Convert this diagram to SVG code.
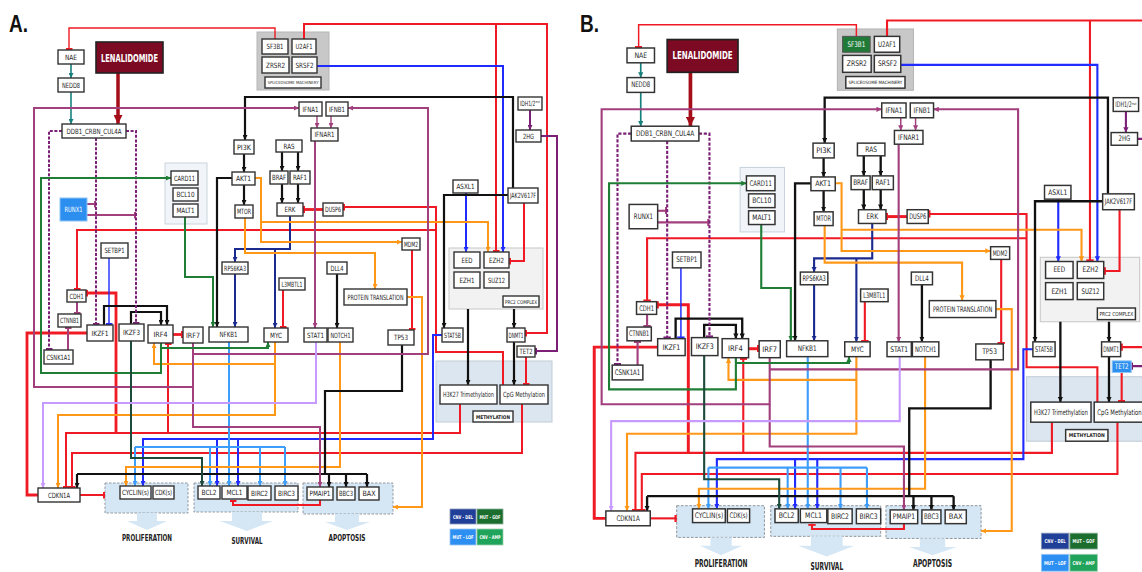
<svg xmlns="http://www.w3.org/2000/svg" xmlns:xlink="http://www.w3.org/1999/xlink" width="1142" height="572" viewBox="0 0 1142 572">
<style>
.bx{fill:#fff;stroke:#333;stroke-width:1.4}
.lb{font-family:'Liberation Sans Narrow','DejaVu Sans Condensed','Liberation Sans',sans-serif;font-size:7.2px;fill:#222;text-anchor:middle;dominant-baseline:central}
.sm{font-size:4.2px}
.wt{fill:#fff;font-weight:bold}
.c{fill:none;stroke-width:2}
.thin{stroke-width:1.4}
.thick{stroke-width:2.8}
.k{stroke:#111;stroke-width:2.2}
.r{stroke:#ef1a24}
.b{stroke:#1f2bff}
.n{stroke:#1b2a8f}
.lbl{stroke:#3d9dfc}
.o{stroke:#ff9818}
.p{stroke:#a23f7d}
.dp{stroke:#7b2076}
.dash{stroke-dasharray:3 1.6}
.g{stroke:#1f7d35}
.dg{stroke:#1c4a3b}
.t{stroke:#17807d;stroke-width:1.6}
.lv{stroke:#c79aff}
.grp{fill:#d5e7f5;stroke:#8a8f96;stroke-width:0.9;stroke-dasharray:2.5 1.5}
.out{font-family:'Liberation Sans Narrow','DejaVu Sans Condensed','Liberation Sans',sans-serif;font-size:9.5px;font-weight:bold;fill:#222;text-anchor:middle}
.leg{font-family:'Liberation Sans Narrow','DejaVu Sans Condensed','Liberation Sans',sans-serif;font-size:5px;font-weight:bold;fill:#fff;text-anchor:middle;dominant-baseline:central}
.pl{font-family:'Liberation Sans','Arial',sans-serif;font-size:24px;font-weight:bold;fill:#111}
</style>
<defs>
<marker id="a-k" viewBox="0 0 8 8" refX="8" refY="4" markerWidth="5" markerHeight="5" orient="auto" markerUnits="userSpaceOnUse"><path d="M0,0L8,4L0,8z" fill="#111"/></marker>
<marker id="a-b" viewBox="0 0 8 8" refX="8" refY="4" markerWidth="5" markerHeight="5" orient="auto" markerUnits="userSpaceOnUse"><path d="M0,0L8,4L0,8z" fill="#1f2bff"/></marker>
<marker id="a-n" viewBox="0 0 8 8" refX="8" refY="4" markerWidth="5" markerHeight="5" orient="auto" markerUnits="userSpaceOnUse"><path d="M0,0L8,4L0,8z" fill="#1b2a8f"/></marker>
<marker id="a-lb" viewBox="0 0 8 8" refX="8" refY="4" markerWidth="5" markerHeight="5" orient="auto" markerUnits="userSpaceOnUse"><path d="M0,0L8,4L0,8z" fill="#3d9dfc"/></marker>
<marker id="a-o" viewBox="0 0 8 8" refX="8" refY="4" markerWidth="5" markerHeight="5" orient="auto" markerUnits="userSpaceOnUse"><path d="M0,0L8,4L0,8z" fill="#ff9818"/></marker>
<marker id="a-p" viewBox="0 0 8 8" refX="8" refY="4" markerWidth="5" markerHeight="5" orient="auto" markerUnits="userSpaceOnUse"><path d="M0,0L8,4L0,8z" fill="#a23f7d"/></marker>
<marker id="a-dp" viewBox="0 0 8 8" refX="8" refY="4" markerWidth="5" markerHeight="5" orient="auto" markerUnits="userSpaceOnUse"><path d="M0,0L8,4L0,8z" fill="#7b2076"/></marker>
<marker id="a-g" viewBox="0 0 8 8" refX="8" refY="4" markerWidth="5" markerHeight="5" orient="auto" markerUnits="userSpaceOnUse"><path d="M0,0L8,4L0,8z" fill="#1f7d35"/></marker>
<marker id="a-dg" viewBox="0 0 8 8" refX="8" refY="4" markerWidth="5" markerHeight="5" orient="auto" markerUnits="userSpaceOnUse"><path d="M0,0L8,4L0,8z" fill="#1c4a3b"/></marker>
<marker id="a-t" viewBox="0 0 8 8" refX="8" refY="4" markerWidth="5" markerHeight="5" orient="auto" markerUnits="userSpaceOnUse"><path d="M0,0L8,4L0,8z" fill="#17807d"/></marker>
<marker id="a-lv" viewBox="0 0 8 8" refX="8" refY="4" markerWidth="5" markerHeight="5" orient="auto" markerUnits="userSpaceOnUse"><path d="M0,0L8,4L0,8z" fill="#c79aff"/></marker>
<marker id="a-dr" viewBox="0 0 8 8" refX="8" refY="4" markerWidth="9" markerHeight="9" orient="auto" markerUnits="userSpaceOnUse"><path d="M0,0L8,4L0,8z" fill="#a50d18"/></marker>
<marker id="t-r" viewBox="0 0 3 10" refX="3" refY="5" markerWidth="2.2" markerHeight="7" orient="auto" markerUnits="userSpaceOnUse"><rect width="3" height="10" fill="#ef1a24"/></marker>
<marker id="t-b" viewBox="0 0 3 10" refX="3" refY="5" markerWidth="2.2" markerHeight="7" orient="auto" markerUnits="userSpaceOnUse"><rect width="3" height="10" fill="#1f2bff"/></marker>
<marker id="t-p" viewBox="0 0 3 10" refX="3" refY="5" markerWidth="2.2" markerHeight="7" orient="auto" markerUnits="userSpaceOnUse"><rect width="3" height="10" fill="#a23f7d"/></marker>
<marker id="t-dp" viewBox="0 0 3 10" refX="3" refY="5" markerWidth="2.2" markerHeight="7" orient="auto" markerUnits="userSpaceOnUse"><rect width="3" height="10" fill="#7b2076"/></marker>

<!-- shared network drawing (nodes that never change colour) -->
<g id="panel">
  <!-- complex / outcome backgrounds -->
  <g id="bg">
    <rect x="257" y="32" width="72" height="58" fill="#c8c8c8" stroke="#b5b5b5"/>
    <rect x="165" y="163" width="42" height="61" fill="#f1f5f9" stroke="#c9d3dd"/>
    <rect x="449" y="248" width="94" height="61" fill="#f2f2f2" stroke="#c8c8c8"/>
    <rect x="436" y="361" width="116" height="61" fill="#dce6f0" stroke="#c2ccd6"/>
    <rect class="grp" x="105" y="483" width="83" height="30"/>
    <path d="M137,513V521H127L147,530L167,521H157V513Z" fill="#d5e7f5"/>
    <rect class="grp" x="194" y="483" width="104" height="29"/>
    <path d="M232,512V521H220L247,531L273,521H262V512Z" fill="#d5e7f5"/>
    <rect class="grp" x="303" y="483" width="90" height="31"/>
    <path d="M335,514V522H325L347,530L370,522H359V514Z" fill="#d5e7f5"/>
  </g>

  <g id="connectors">
    <path class="c t" d="M71,64V78" marker-end="url(#a-t)"/>
    <path class="c t" d="M71,92V124" marker-end="url(#a-t)"/>
    <path d="M118,73V124" fill="none" stroke="#a50d18" stroke-width="3.5" marker-end="url(#a-dr)"/>
    <!-- red -->
    <path class="c r thin" d="M275,39V28H69V50" marker-end="url(#t-r)"/>
    <path class="c r" d="M304,39V24H547V333H525" marker-end="url(#t-r)"/>
    <path class="c r" d="M496,24V252" marker-end="url(#t-r)"/>
    <path class="c r" d="M524,203V261H509" marker-end="url(#t-r)"/>
    <path class="c r" d="M412,250V330" marker-end="url(#t-r)"/>
    <path class="c r" d="M283,290V328" marker-end="url(#t-r)"/>
    <path class="c r thick" d="M323,209.5H303" marker-end="url(#t-r)"/>
    <path class="c r" d="M503,385V352H436V207H343" marker-end="url(#t-r)"/>
    <path class="c r" d="M436,230H77V290" marker-end="url(#t-r)"/>
    <path class="c r" d="M460,404V433H66V488" marker-end="url(#t-r)"/>
    <path class="c r thick" d="M116,433V293H86" marker-end="url(#t-r)"/>
    <path class="c r" d="M168,433V343" marker-end="url(#t-r)"/>
    <path class="c r" d="M522,404V453H72V488" marker-end="url(#t-r)"/>
    <path class="c r thick" d="M87,333H27V495H38"/>
    <path class="c r" d="M80,495H105" marker-end="url(#t-r)"/>
    <path class="c r" d="M320,500V505H233V500" marker-end="url(#t-r)"/>
    <path class="c r thick" d="M173,334.5H183" marker-end="url(#t-r)"/>
    <path class="c r" d="M526,357V385" marker-end="url(#t-r)"/>
    <!-- blue -->
    <path class="c b" d="M317,66H503V252" marker-end="url(#a-b)"/>
    <path class="c b" d="M466,193V252" marker-end="url(#a-b)"/>
    <path class="c b thin" d="M109,258V325" marker-end="url(#t-b)"/>
    <path class="c b" d="M442,335H433V439H143V486" marker-end="url(#a-b)"/>
    <path class="c b" d="M217,439V486" marker-end="url(#a-b)"/>
    <path class="c b" d="M238,439V486" marker-end="url(#a-b)"/>
    <!-- navy -->
    <path class="c n" d="M290,216V249H235V262" marker-end="url(#a-n)"/>
    <path class="c n" d="M275,249V328" marker-end="url(#a-n)"/>
    <path class="c n" d="M235,274V327" marker-end="url(#a-n)"/>
    <!-- light blue -->
    <path class="c lbl" d="M229,342V486" marker-end="url(#a-lb)"/>
    <path class="c lbl" d="M135,447H285"/>
    <path class="c lbl" d="M135,447V486" marker-end="url(#a-lb)"/>
    <path class="c lbl" d="M210,447V486" marker-end="url(#a-lb)"/>
    <path class="c lbl" d="M260,447V486" marker-end="url(#a-lb)"/>
    <path class="c lbl" d="M285,447V486" marker-end="url(#a-lb)"/>
    <!-- orange -->
    <path class="c o" d="M255,178H261V242H402" marker-end="url(#a-o)"/>
    <path class="c o" d="M261,222H488V252" marker-end="url(#a-o)"/>
    <path class="c o" d="M245,218V253H375V289" marker-end="url(#a-o)"/>
    <path class="c o" d="M407,297H422V507H393" marker-end="url(#a-o)"/>
    <path class="c o" d="M275,342V415H58V488" marker-end="url(#a-o)"/>
    <path class="c o" d="M275,364H154V343" marker-end="url(#a-o)"/>
    <path class="c o" d="M340,342V467H126V486" marker-end="url(#a-o)"/>
    <!-- black -->
    <path class="c k" d="M513,188V97H245V140" marker-end="url(#a-k)"/>
    <path class="c k" d="M508,195H444V328" marker-end="url(#a-k)"/>
    <path class="c k" d="M244,154V172" marker-end="url(#a-k)"/>
    <path class="c k" d="M244,185V205" marker-end="url(#a-k)"/>
    <path class="c k" d="M282,152V171" marker-end="url(#a-k)"/>
    <path class="c k" d="M298,152V171" marker-end="url(#a-k)"/>
    <path class="c k" d="M282,184V203" marker-end="url(#a-k)"/>
    <path class="c k" d="M298,184V203" marker-end="url(#a-k)"/>
    <path class="c k" d="M232,178H217V327" marker-end="url(#a-k)"/>
    <path class="c k" d="M337,274V328" marker-end="url(#a-k)"/>
    <path class="c k" d="M104,325V306H167V325" marker-end="url(#a-k)"/>
    <path class="c k" d="M131,324V312H161V325" marker-end="url(#a-k)"/>
    <path class="c k" d="M402,345V391H325V474"/>
    <path class="c k" d="M77,474H367"/>
    <path class="c k" d="M77,474V488" marker-end="url(#a-k)"/>
    <path class="c k" d="M329,474V487" marker-end="url(#a-k)"/>
    <path class="c k" d="M346,474V487" marker-end="url(#a-k)"/>
    <path class="c k" d="M367,474V487" marker-end="url(#a-k)"/>
    <path class="c k" d="M468,309V385" marker-end="url(#a-k)"/>
    <path class="c k" d="M514,309V328" marker-end="url(#a-k)"/>
    <path class="c k" d="M514,342V385" marker-end="url(#a-k)"/>
    <!-- purple -->
    <path class="c p" d="M193,343V387H34V108H299" marker-end="url(#a-p)"/>
    <path class="c p" d="M193,354H428V108H348" marker-end="url(#a-p)"/>
    <path class="c p" d="M193,387V427H320V487" marker-end="url(#a-p)"/>
    <path class="c p thin" d="M317,116V128" marker-end="url(#a-p)"/>
    <path class="c p thin" d="M331,116V128" marker-end="url(#a-p)"/>
    <path class="c p" d="M315,141V328" marker-end="url(#a-p)"/>
    <path class="c p" d="M87,204H96" marker-end="url(#t-p)"/>
    <path class="c p" d="M87,215H136" marker-end="url(#t-p)"/>
    <path class="c p" d="M77,302V314" marker-end="url(#t-p)"/>
    <path class="c p" d="M68,350V327" marker-end="url(#t-p)"/>
    <!-- dark purple -->
    <path class="c dp" d="M530,110V130" marker-end="url(#a-dp)"/>
    <path class="c dp" d="M541,136H557V351H535" marker-end="url(#t-dp)"/>
    <path class="c dp dash" d="M62,131H49V350" marker-end="url(#t-dp)"/>
    <path class="c dp dash" d="M96,138V325" marker-end="url(#t-dp)"/>
    <path class="c dp dash" d="M126,131H136V324" marker-end="url(#t-dp)"/>
    <!-- greens -->
    <path class="c g" d="M161,343V373H41V178H171" marker-end="url(#a-g)"/>
    <path class="c g" d="M161,348H268V342" marker-end="url(#a-g)"/>
    <path class="c g" d="M185,217V277H213V327" marker-end="url(#a-g)"/>
    <path class="c dg" d="M131,341V458H202V486" marker-end="url(#a-dg)"/>
    <!-- lavender -->
    <path class="c lv" d="M316,342V403H43V488" marker-end="url(#a-lv)"/>
  </g>

  <g id="n-nae"><rect class="bx" x="58" y="50" width="26" height="14"/><text class="lb" x="71" y="57" textLength="12" lengthAdjust="spacingAndGlyphs">NAE</text></g>
  <g id="n-nedd8"><rect class="bx" x="58" y="78" width="26" height="14"/><text class="lb" x="71" y="85" textLength="18" lengthAdjust="spacingAndGlyphs">NEDD8</text></g>
  <g id="n-len"><rect x="96" y="42" width="67" height="31" fill="#7b0a22" stroke="#222" stroke-width="1.6"/><text class="lb wt" x="129.5" y="57.5" style="font-size:10.5px" textLength="57" lengthAdjust="spacingAndGlyphs">LENALIDOMIDE</text></g>
  <g id="n-ddb1"><rect class="bx" x="62" y="124" width="64" height="14"/><text class="lb" x="94" y="131" textLength="55" lengthAdjust="spacingAndGlyphs">DDB1_CRBN_CUL4A</text></g>
  <g id="n-u2af1"><rect class="bx" x="292" y="39" width="24" height="15"/><text class="lb" x="304" y="46.5" textLength="17" lengthAdjust="spacingAndGlyphs">U2AF1</text></g>
  <g id="n-zrsr2"><rect class="bx" x="262" y="57" width="27" height="16"/><text class="lb" x="275.5" y="65" textLength="19" lengthAdjust="spacingAndGlyphs">ZRSR2</text></g>
  <g id="n-srsf2"><rect class="bx" x="292" y="57" width="25" height="16"/><text class="lb" x="304.5" y="65" textLength="18" lengthAdjust="spacingAndGlyphs">SRSF2</text></g>
  <g id="n-splice"><rect class="bx" x="265" y="77" width="56" height="11"/><text class="lb sm" x="293" y="82.5" textLength="51" lengthAdjust="spacingAndGlyphs">SPLICEOSOME MACHINERY</text></g>
  <g id="n-ifna1"><rect class="bx" x="299" y="102" width="23" height="14"/><text class="lb" x="310.5" y="109" textLength="16" lengthAdjust="spacingAndGlyphs">IFNA1</text></g>
  <g id="n-ifnb1"><rect class="bx" x="326" y="102" width="22" height="14"/><text class="lb" x="337" y="109" textLength="16" lengthAdjust="spacingAndGlyphs">IFNB1</text></g>
  <g id="n-ifnar1"><rect class="bx" x="311" y="128" width="27" height="13"/><text class="lb" x="324.5" y="134.5" textLength="20" lengthAdjust="spacingAndGlyphs">IFNAR1</text></g>
  <g id="n-idh"><rect class="bx" x="518" y="97" width="24" height="13"/><text class="lb" x="530" y="103.5" textLength="20" lengthAdjust="spacingAndGlyphs">IDH1/2<tspan style="font-size:3.6px" dy="-1.8">mut</tspan></text></g>
  <g id="n-2hg"><rect class="bx" x="516" y="130" width="25" height="12"/><text class="lb" x="528.5" y="136" textLength="11" lengthAdjust="spacingAndGlyphs">2HG</text></g>
  <g id="n-pi3k"><rect class="bx" x="234" y="140" width="20" height="14"/><text class="lb" x="244" y="147" textLength="14" lengthAdjust="spacingAndGlyphs">PI3K</text></g>
  <g id="n-akt1"><rect class="bx" x="232" y="172" width="23" height="13"/><text class="lb" x="243.5" y="178.5" textLength="15" lengthAdjust="spacingAndGlyphs">AKT1</text></g>
  <g id="n-mtor"><rect class="bx" x="235" y="205" width="18" height="13"/><text class="lb" x="244" y="211.5" textLength="14" lengthAdjust="spacingAndGlyphs">MTOR</text></g>
  <g id="n-ras"><rect class="bx" x="276" y="140" width="26" height="12"/><text class="lb" x="289" y="146" textLength="11" lengthAdjust="spacingAndGlyphs">RAS</text></g>
  <g id="n-braf"><rect class="bx" x="270" y="171" width="18" height="13"/><text class="lb" x="279" y="177.5" textLength="14" lengthAdjust="spacingAndGlyphs">BRAF</text></g>
  <g id="n-raf1"><rect class="bx" x="290" y="171" width="20" height="13"/><text class="lb" x="300" y="177.5" textLength="14" lengthAdjust="spacingAndGlyphs">RAF1</text></g>
  <g id="n-erk"><rect class="bx" x="277" y="203" width="26" height="13"/><text class="lb" x="290" y="209.5" textLength="11" lengthAdjust="spacingAndGlyphs">ERK</text></g>
  <g id="n-dusp6"><rect class="bx" x="323" y="203" width="20" height="13"/><text class="lb" x="333" y="209.5" textLength="16" lengthAdjust="spacingAndGlyphs">DUSP6</text></g>
  <g id="n-card11"><rect class="bx" x="171" y="171" width="27" height="14"/><text class="lb" x="184.5" y="178" textLength="21" lengthAdjust="spacingAndGlyphs">CARD11</text></g>
  <g id="n-bcl10"><rect class="bx" x="173" y="188" width="25" height="13"/><text class="lb" x="185.5" y="194.5" textLength="18" lengthAdjust="spacingAndGlyphs">BCL10</text></g>
  <g id="n-malt1"><rect class="bx" x="173" y="204" width="25" height="13"/><text class="lb" x="185.5" y="210.5" textLength="18" lengthAdjust="spacingAndGlyphs">MALT1</text></g>
  <g id="n-setbp1"><rect class="bx" x="101" y="243" width="27" height="15"/><text class="lb" x="114.5" y="250.5" textLength="20" lengthAdjust="spacingAndGlyphs">SETBP1</text></g>
  <g id="n-cdh1"><rect class="bx" x="67" y="290" width="19" height="12"/><text class="lb" x="76.5" y="296" textLength="14" lengthAdjust="spacingAndGlyphs">CDH1</text></g>
  <g id="n-ctnnb1"><rect class="bx" x="58" y="314" width="23" height="13"/><text class="lb" x="69.5" y="320.5" textLength="19" lengthAdjust="spacingAndGlyphs">CTNNB1</text></g>
  <g id="n-csnk1a1"><rect class="bx" x="44" y="350" width="29" height="14"/><text class="lb" x="58.5" y="357" textLength="24" lengthAdjust="spacingAndGlyphs">CSNK1A1</text></g>
  <g id="n-ikzf1"><rect class="bx" x="87" y="325" width="26" height="16"/><text class="lb" x="100" y="333" textLength="17" lengthAdjust="spacingAndGlyphs">IKZF1</text></g>
  <g id="n-ikzf3"><rect class="bx" x="119" y="324" width="25" height="17"/><text class="lb" x="131.5" y="332.5" textLength="17" lengthAdjust="spacingAndGlyphs">IKZF3</text></g>
  <g id="n-irf4"><rect class="bx" x="148" y="325" width="25" height="18"/><text class="lb" x="160.5" y="334" textLength="14" lengthAdjust="spacingAndGlyphs">IRF4</text></g>
  <g id="n-irf7"><rect class="bx" x="183" y="327" width="20" height="16"/><text class="lb" x="193" y="335" textLength="14" lengthAdjust="spacingAndGlyphs">IRF7</text></g>
  <g id="n-nfkb1"><rect class="bx" x="209" y="327" width="39" height="15"/><text class="lb" x="228.5" y="334.5" textLength="18" lengthAdjust="spacingAndGlyphs">NFKB1</text></g>
  <g id="n-myc"><rect class="bx" x="264" y="328" width="24" height="14"/><text class="lb" x="276" y="335" textLength="12" lengthAdjust="spacingAndGlyphs">MYC</text></g>
  <g id="n-stat1"><rect class="bx" x="304" y="328" width="23" height="14"/><text class="lb" x="315.5" y="335" textLength="17" lengthAdjust="spacingAndGlyphs">STAT1</text></g>
  <g id="n-notch1"><rect class="bx" x="328" y="328" width="25" height="14"/><text class="lb" x="340.5" y="335" textLength="20" lengthAdjust="spacingAndGlyphs">NOTCH1</text></g>
  <g id="n-tp53"><rect class="bx" x="388" y="330" width="26" height="15"/><text class="lb" x="401" y="337.5" textLength="14" lengthAdjust="spacingAndGlyphs">TP53</text></g>
  <g id="n-stat5b"><rect class="bx" x="442" y="328" width="21" height="14"/><text class="lb" x="452.5" y="335" textLength="17" lengthAdjust="spacingAndGlyphs">STAT5B</text></g>
  <g id="n-dnmt1"><rect class="bx" x="507" y="328" width="18" height="14"/><text class="lb" x="516" y="335" textLength="15" lengthAdjust="spacingAndGlyphs">DNMT1</text></g>
  <g id="n-rps6ka3"><rect class="bx" x="222" y="262" width="26" height="12"/><text class="lb" x="235" y="268" textLength="22" lengthAdjust="spacingAndGlyphs">RPS6KA3</text></g>
  <g id="n-l3mbtl1"><rect class="bx" x="279" y="278" width="26" height="12"/><text class="lb" x="292" y="284" textLength="21" lengthAdjust="spacingAndGlyphs">L3MBTL1</text></g>
  <g id="n-dll4"><rect class="bx" x="327" y="262" width="20" height="12"/><text class="lb" x="337" y="268" textLength="13" lengthAdjust="spacingAndGlyphs">DLL4</text></g>
  <g id="n-mdm2"><rect class="bx" x="402" y="238" width="18" height="12"/><text class="lb" x="411" y="244" textLength="14" lengthAdjust="spacingAndGlyphs">MDM2</text></g>
  <g id="n-prot"><rect class="bx" x="344" y="289" width="63" height="16"/><text class="lb" x="375.5" y="297" textLength="56" lengthAdjust="spacingAndGlyphs">PROTEIN TRANSLATION</text></g>
  <g id="n-asxl1"><rect class="bx" x="453" y="180" width="25" height="13"/><text class="lb" x="465.5" y="186.5" textLength="18" lengthAdjust="spacingAndGlyphs">ASXL1</text></g>
  <g id="n-jak2"><rect class="bx" x="508" y="188" width="30" height="15"/><text class="lb" x="523" y="195.5" textLength="26" lengthAdjust="spacingAndGlyphs">JAK2V617F</text></g>
  <g id="n-eed"><rect class="bx" x="454" y="252" width="26" height="16"/><text class="lb" x="467" y="260" textLength="11" lengthAdjust="spacingAndGlyphs">EED</text></g>
  <g id="n-ezh2"><rect class="bx" x="484" y="252" width="25" height="16"/><text class="lb" x="496.5" y="260" textLength="15" lengthAdjust="spacingAndGlyphs">EZH2</text></g>
  <g id="n-ezh1"><rect class="bx" x="454" y="272" width="26" height="16"/><text class="lb" x="467" y="280" textLength="15" lengthAdjust="spacingAndGlyphs">EZH1</text></g>
  <g id="n-suz12"><rect class="bx" x="484" y="272" width="25" height="16"/><text class="lb" x="496.5" y="280" textLength="17" lengthAdjust="spacingAndGlyphs">SUZ12</text></g>
  <g id="n-prc2"><rect class="bx" x="503" y="296" width="36" height="11"/><text class="lb" x="521" y="301.5" style="font-size:5.2px" textLength="32" lengthAdjust="spacingAndGlyphs">PRC2 COMPLEX</text></g>
  <g id="n-h3k27"><rect class="bx" x="440" y="385" width="57" height="19"/><text class="lb" x="468.5" y="394.5" textLength="51" lengthAdjust="spacingAndGlyphs">H3K27 Trimethylation</text></g>
  <g id="n-cpg"><rect class="bx" x="500" y="385" width="48" height="19"/><text class="lb" x="524" y="394.5" textLength="42" lengthAdjust="spacingAndGlyphs">CpG Methylation</text></g>
  <g id="n-meth"><rect class="bx" x="473" y="411" width="40" height="11"/><text class="lb" x="493" y="416.5" style="font-size:5px;font-weight:bold" textLength="34" lengthAdjust="spacingAndGlyphs">METHYLATION</text></g>
  <g id="n-cdkn1a"><rect class="bx" x="38" y="488" width="42" height="14"/><text class="lb" x="59" y="495" textLength="22" lengthAdjust="spacingAndGlyphs">CDKN1A</text></g>
  <g id="n-cyclin"><rect class="bx" x="120" y="486" width="31" height="13"/><text class="lb" x="135.5" y="492.5" textLength="27" lengthAdjust="spacingAndGlyphs">CYCLIN(s)</text></g>
  <g id="n-cdk"><rect class="bx" x="153" y="486" width="21" height="13"/><text class="lb" x="163.5" y="492.5" textLength="17" lengthAdjust="spacingAndGlyphs">CDK(s)</text></g>
  <g id="n-bcl2"><rect class="bx" x="198" y="486" width="22" height="13"/><text class="lb" x="209" y="492.5" textLength="15" lengthAdjust="spacingAndGlyphs">BCL2</text></g>
  <g id="n-mcl1"><rect class="bx" x="222" y="486" width="25" height="13"/><text class="lb" x="234.5" y="492.5" textLength="16" lengthAdjust="spacingAndGlyphs">MCL1</text></g>
  <g id="n-birc2"><rect class="bx" x="248" y="486" width="23" height="14"/><text class="lb" x="259.5" y="493" textLength="17" lengthAdjust="spacingAndGlyphs">BIRC2</text></g>
  <g id="n-birc3"><rect class="bx" x="275" y="486" width="23" height="14"/><text class="lb" x="286.5" y="493" textLength="17" lengthAdjust="spacingAndGlyphs">BIRC3</text></g>
  <g id="n-pmaip1"><rect class="bx" x="307" y="487" width="26" height="13"/><text class="lb" x="320" y="493.5" textLength="21" lengthAdjust="spacingAndGlyphs">PMAIP1</text></g>
  <g id="n-bbc3"><rect class="bx" x="337" y="487" width="18" height="13"/><text class="lb" x="346" y="493.5" textLength="14" lengthAdjust="spacingAndGlyphs">BBC3</text></g>
  <g id="n-bax"><rect class="bx" x="359" y="487" width="20" height="13"/><text class="lb" x="369" y="493.5" textLength="13" lengthAdjust="spacingAndGlyphs">BAX</text></g>
  <g id="outcomes">
    <text class="out" x="147" y="541" textLength="50" lengthAdjust="spacingAndGlyphs">PROLIFERATION</text>
    <text class="out" x="247" y="544" textLength="31" lengthAdjust="spacingAndGlyphs">SURVIVAL</text>
    <text class="out" x="347" y="541" textLength="37" lengthAdjust="spacingAndGlyphs">APOPTOSIS</text>
  </g>
  <g id="legend">
    <rect x="450" y="509" width="26" height="15" fill="#1f3f99" stroke="#8a9ab8" stroke-width="0.8"/><text class="leg" x="463" y="516.5" textLength="20" lengthAdjust="spacingAndGlyphs">CNV - DEL</text>
    <rect x="477" y="509" width="26" height="15" fill="#1c6e2f" stroke="#8ab09a" stroke-width="0.8"/><text class="leg" x="490" y="516.5" textLength="21" lengthAdjust="spacingAndGlyphs">MUT - GOF</text>
    <rect x="450" y="529" width="26" height="16" fill="#2e8ff2" stroke="#9cc6f3" stroke-width="0.8"/><text class="leg" x="463" y="537" textLength="21" lengthAdjust="spacingAndGlyphs">MUT - LOF</text>
    <rect x="477" y="529" width="26" height="16" fill="#20a35a" stroke="#9ccfb0" stroke-width="0.8"/><text class="leg" x="490" y="537" textLength="21" lengthAdjust="spacingAndGlyphs">CNV - AMP</text>
  </g>
</g>
</defs>

<rect width="1142" height="572" fill="#fff"/>

<!-- panel A -->
<g id="panel-a">
  <text class="pl" x="9" y="32" textLength="19" lengthAdjust="spacingAndGlyphs">A.</text>
  <use href="#panel" xlink:href="#panel"/>
  <g id="a-sf3b1"><rect class="bx" x="262" y="39" width="26" height="15"/><text class="lb" x="275" y="46.5" textLength="17" lengthAdjust="spacingAndGlyphs">SF3B1</text></g>
  <g id="a-runx1"><rect x="60" y="198" width="27" height="23" fill="#2c8ff0" stroke="#8cc4f5" stroke-width="1"/><text class="lb" x="73.5" y="209.5" style="fill:#fff" textLength="18" lengthAdjust="spacingAndGlyphs">RUNX1</text></g>
  <g id="a-tet2"><rect class="bx" x="517" y="346" width="18" height="11"/><text class="lb" x="526" y="351.5" textLength="13" lengthAdjust="spacingAndGlyphs">TET2</text></g>
</g>

<!-- panel B -->
<g id="panel-b">
  <text class="pl" x="580" y="32" textLength="19" lengthAdjust="spacingAndGlyphs">B.</text>
  <g transform="translate(565.7,-4.85) scale(1.057)">
    <use href="#panel" xlink:href="#panel"/>
    <g id="b-sf3b1"><rect x="262" y="39" width="26" height="15" fill="#1f7a37" stroke="#555" stroke-width="1"/><text class="lb" x="275" y="46.5" style="fill:#fff" textLength="17" lengthAdjust="spacingAndGlyphs">SF3B1</text></g>
    <g id="b-runx1"><rect class="bx" x="60" y="198" width="27" height="23"/><text class="lb" x="73.5" y="209.5" textLength="18" lengthAdjust="spacingAndGlyphs">RUNX1</text></g>
    <g id="b-tet2"><rect x="517" y="346" width="18" height="11" fill="#2c8ff0" stroke="#8cc4f5" stroke-width="1"/><text class="lb" x="526" y="351.5" style="fill:#fff" textLength="13" lengthAdjust="spacingAndGlyphs">TET2</text></g>
  </g>
</g>
</svg>
